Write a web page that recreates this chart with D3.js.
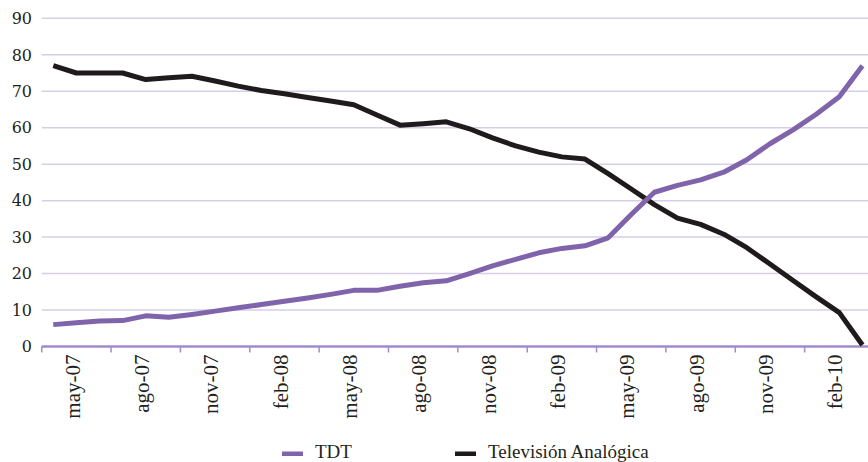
<!DOCTYPE html>
<html><head><meta charset="utf-8">
<script src="https://cdn.jsdelivr.net/npm/d3@7"></script>
<style>body{margin:0;background:#fff} svg{display:block}</style>
</head><body>
<svg id="c" width="868" height="462"></svg>
<script>
const months = ["abr-07","may-07","jun-07","jul-07","ago-07","sep-07","oct-07","nov-07","dic-07",
  "ene-08","feb-08","mar-08","abr-08","may-08","jun-08","jul-08","ago-08","sep-08","oct-08","nov-08","dic-08",
  "ene-09","feb-09","mar-09","abr-09","may-09","jun-09","jul-09","ago-09","sep-09","oct-09","nov-09","dic-09",
  "ene-10","feb-10","mar-10"];
const tdt = [6.0,6.5,7.0,7.1,8.4,8.0,8.8,9.7,10.6,11.5,12.4,13.3,14.3,15.4,15.4,16.5,17.5,18.0,20.0,22.1,
  23.9,25.7,26.9,27.6,29.8,36.2,42.3,44.2,45.7,47.8,51.2,55.6,59.4,63.7,68.5,77.0];
const analogica = [77.0,75.0,75.0,75.0,73.2,73.7,74.1,72.8,71.4,70.2,69.3,68.3,67.3,66.3,63.5,60.7,61.1,61.6,
  59.7,57.2,55.0,53.3,52.0,51.4,47.4,43.2,38.9,35.2,33.5,30.8,27.1,22.6,18.1,13.6,9.3,0.4];
const yTicks = [0,10,20,30,40,50,60,70,80,90];
const seriesNames = ["TDT","Televisión Analógica"];
const seriesColors = ["#8064ab","#1f1b1c"];

const svg = d3.select("#c");
const x = d3.scaleBand().domain(months).range([41.7, 874]);
const y = d3.scaleLinear().domain([0, 90]).range([346.5, 18.3]);
const xc = m => x(m) + x.bandwidth() / 2;

// gridlines
svg.append("g").selectAll("line").data(yTicks.filter(d => d > 0)).join("line")
  .attr("x1", 41.7).attr("x2", 874)
  .attr("y1", d => y(d)).attr("y2", d => y(d))
  .attr("stroke", "#d6cee8").attr("stroke-width", 1.5);

// y labels
svg.append("g").selectAll("text").data(yTicks).join("text")
  .attr("x", 32).attr("y", d => y(d)).attr("dy", "0.36em")
  .attr("text-anchor", "end")
  .style("font-family", "'DejaVu Serif', 'Liberation Serif', serif").style("font-size", "16px").attr("fill", "#231f20")
  .text(d => d);

// x axis labels
const labelMonths = months.filter((d, i) => i % 3 === 1);
const xAxis = d3.axisBottom(x).tickValues(labelMonths).tickSize(0).tickPadding(0);
const gx = svg.append("g").attr("transform", "translate(0,346.5)").call(xAxis);
gx.select(".domain").remove();
gx.selectAll("text")
  .attr("transform", "rotate(-90)")
  .attr("x", -8).attr("y", 0).attr("dy", "0.15em")
  .attr("text-anchor", "end")
  .style("font-family", "'Liberation Serif', serif").style("font-size", "21px").attr("fill", "#231f20");

// baseline and tick marks
svg.append("line").attr("x1", 41.7).attr("x2", 874).attr("y1", y(0)).attr("y2", y(0))
  .attr("stroke", "#a08ccb").attr("stroke-width", 2.5);
const tickMonths = months.filter((d, i) => i % 3 === 0);
svg.append("g").selectAll("line").data(tickMonths).join("line")
  .attr("x1", d => x(d)).attr("x2", d => x(d))
  .attr("y1", y(0)).attr("y2", y(0) + 6)
  .attr("stroke", "#a08ccb").attr("stroke-width", 1.5);

// lines
const line = d3.line().x(d => xc(d[0])).y(d => y(d[1]));
[analogica, tdt].forEach((vals, k) => {
  const idx = k === 0 ? 1 : 0;
  svg.append("path")
    .datum(months.map((m, i) => [m, vals[i]]))
    .attr("d", line).attr("fill", "none")
    .attr("stroke", seriesColors[idx]).attr("stroke-width", 5)
    .attr("stroke-linejoin", "round");
});

// legend
const legendX = [282, 455];
const lg = svg.append("g");
seriesNames.forEach((n, i) => {
  lg.append("rect").attr("x", legendX[i]).attr("y", 451.5).attr("width", 21).attr("height", 4.5)
    .attr("fill", seriesColors[i]);
  lg.append("text").attr("x", legendX[i] + 33).attr("y", 458)
    .style("font-family", "'Liberation Serif', serif").style("font-size", "19px").attr("fill", "#231f20")
    .text(n);
});
</script>
</body></html>
